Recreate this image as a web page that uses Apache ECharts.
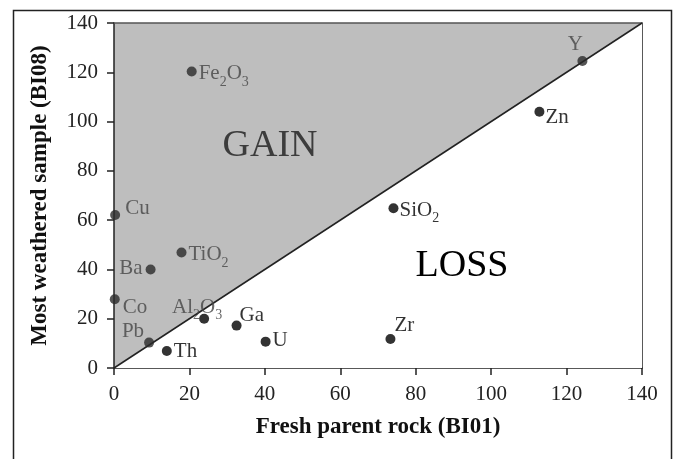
<!DOCTYPE html>
<html><head><meta charset="utf-8">
<script src="https://cdn.jsdelivr.net/npm/echarts@6/dist/echarts.min.js"></script>
<style>html,body{margin:0;padding:0;background:#fff}#c{width:676px;height:459px}</style>
</head><body><div id="c"></div>
<script>
// ---- data ----
const elements      = ['Fe2O3','Cu','Y','Zn','SiO2','TiO2','Ba','Co','Al2O3','Ga','Pb','Th','U','Zr'];
const freshBI01     = [20.6, 0.3, 124.2, 112.8, 74.1, 17.9, 9.7, 0.2, 23.9, 32.5, 9.3, 14.0, 40.2, 73.3];
const weatheredBI08 = [120.3, 62.1, 124.6, 104.0, 64.8, 46.9, 40.0, 27.9, 20.0, 17.2, 10.3, 6.9, 10.7, 11.8];
const axisMin = 0, axisMax = 140, axisStep = 20;
const isochron = [[0, 0], [140, 140]];
const regionNames = ['GAIN', 'LOSS'];

// ---- label placement & colour (style only) ----
const GREY = '#454545', BLACK = '#000';
const labelPlace = {
  Fe2O3: {position: 'right', offset: [-2, 3],  color: GREY},
  Cu:    {position: 'right', offset: [1, -5],  color: GREY},
  Y:     {position: 'top',   offset: [-7, 5],  color: GREY},
  Zn:    {position: 'right', offset: [-3, 7],  color: BLACK},
  SiO2:  {position: 'right', offset: [-3, 3],  color: BLACK},
  TiO2:  {position: 'right', offset: [-2, 3],  color: GREY},
  Ba:    {position: 'left',  offset: [1, 0],   color: GREY},
  Co:    {position: 'right', offset: [-1, 9],  color: GREY},
  Al2O3: {position: 'top',   offset: [-7, 10], color: GREY},
  Ga:    {position: 'right', offset: [-6, -9], color: BLACK},
  Pb:    {position: 'left',  offset: [4, -10], color: GREY},
  Th:    {position: 'right', offset: [-2, 1],  color: BLACK},
  U:     {position: 'right', offset: [-2, 0],  color: BLACK},
  Zr:    {position: 'top',   offset: [14, 8],  color: BLACK}
};

function richName(n) {
  return n.replace(/(\d)/g, '{s|$1}').replace(/([^{}|s\d]+)(?=\{|$)/g, '{n|$1}');
}

const serif = 'Liberation Serif';
const pts = elements.map((n, i) => {
  const gain = weatheredBI08[i] > freshBI01[i];
  const lp = labelPlace[n];
  return {
    name: n,
    value: [freshBI01[i], weatheredBI08[i]],
    itemStyle: {color: gain ? '#2b2b2b' : '#000'},
    label: {
      show: true,
      position: lp.position,
      offset: lp.offset,
      distance: 4,
      formatter: richName(n),
      rich: {
        n: {fontFamily: serif, fontSize: 21, color: lp.color, lineHeight: 23, verticalAlign: 'top'},
        s: {fontFamily: serif, fontSize: 14, color: lp.color, lineHeight: 14, padding: [12, 0, 0, 0], verticalAlign: 'top'}
      }
    }
  };
});

const chart = echarts.init(document.getElementById('c'), null, {renderer: 'canvas'});
const tickStyle = {fontFamily: serif, fontSize: 21, color: '#222'};
chart.setOption({
  animation: false,
  backgroundColor: '#fff',
  grid: {left: 114, right: 34, top: 23, bottom: 91, show: true, backgroundColor: '#bebebe', borderWidth: 0},
  xAxis: [{
    type: 'value', min: axisMin, max: axisMax, interval: axisStep,
    name: 'Fresh parent rock (BI01)', nameLocation: 'middle', nameGap: 48,
    nameTextStyle: {fontFamily: serif, fontSize: 23, fontWeight: 'bold', color: '#111'},
    axisLine: {show: true, lineStyle: {color: '#222', width: 1.5}},
    axisTick: {show: true, inside: false, length: 7, lineStyle: {color: '#222', width: 1.5}},
    axisLabel: Object.assign({margin: 16}, tickStyle),
    splitLine: {show: false}
  }, {
    type: 'value', min: axisMin, max: axisMax, position: 'top',
    axisLine: {show: true, onZero: false, lineStyle: {color: '#555', width: 1.5}},
    axisTick: {show: false}, axisLabel: {show: false}, splitLine: {show: false}
  }],
  yAxis: [{
    type: 'value', min: axisMin, max: axisMax, interval: axisStep,
    name: 'Most weathered sample (BI08)', nameLocation: 'middle', nameGap: 62,
    nameTextStyle: {fontFamily: serif, fontSize: 23, fontWeight: 'bold', color: '#111'},
    axisLine: {show: true, lineStyle: {color: '#222', width: 1.5}},
    axisTick: {show: true, inside: false, length: 7, lineStyle: {color: '#222', width: 1.5}},
    axisLabel: Object.assign({margin: 16}, tickStyle),
    splitLine: {show: false}
  }, {
    type: 'value', min: axisMin, max: axisMax, position: 'right',
    axisLine: {show: true, onZero: false, lineStyle: {color: '#222', width: 1.5}},
    axisTick: {show: false}, axisLabel: {show: false}, splitLine: {show: false}
  }],
  graphic: [
    {type: 'rect', shape: {x: 13.5, y: 10.5, width: 658, height: 520}, style: {fill: 'none', stroke: '#222', lineWidth: 1.5}, silent: true, z: 100},
    {type: 'text', x: 270, y: 146, style: {text: regionNames[0], font: '38px "Liberation Serif"', fill: '#3c3c3c', textAlign: 'center', textVerticalAlign: 'middle'}, z: 50},
    {type: 'text', x: 462, y: 266, style: {text: regionNames[1], font: '38px "Liberation Serif"', fill: '#000', textAlign: 'center', textVerticalAlign: 'middle'}, z: 50}
  ],
  series: [{
    type: 'line', data: isochron, symbol: 'none', silent: true, z: 1,
    lineStyle: {color: '#222', width: 1.5},
    areaStyle: {color: '#fff', opacity: 1, origin: 'start'}
  }, {
    type: 'scatter', data: pts, symbolSize: 10, z: 5
  }]
});
</script></body></html>
